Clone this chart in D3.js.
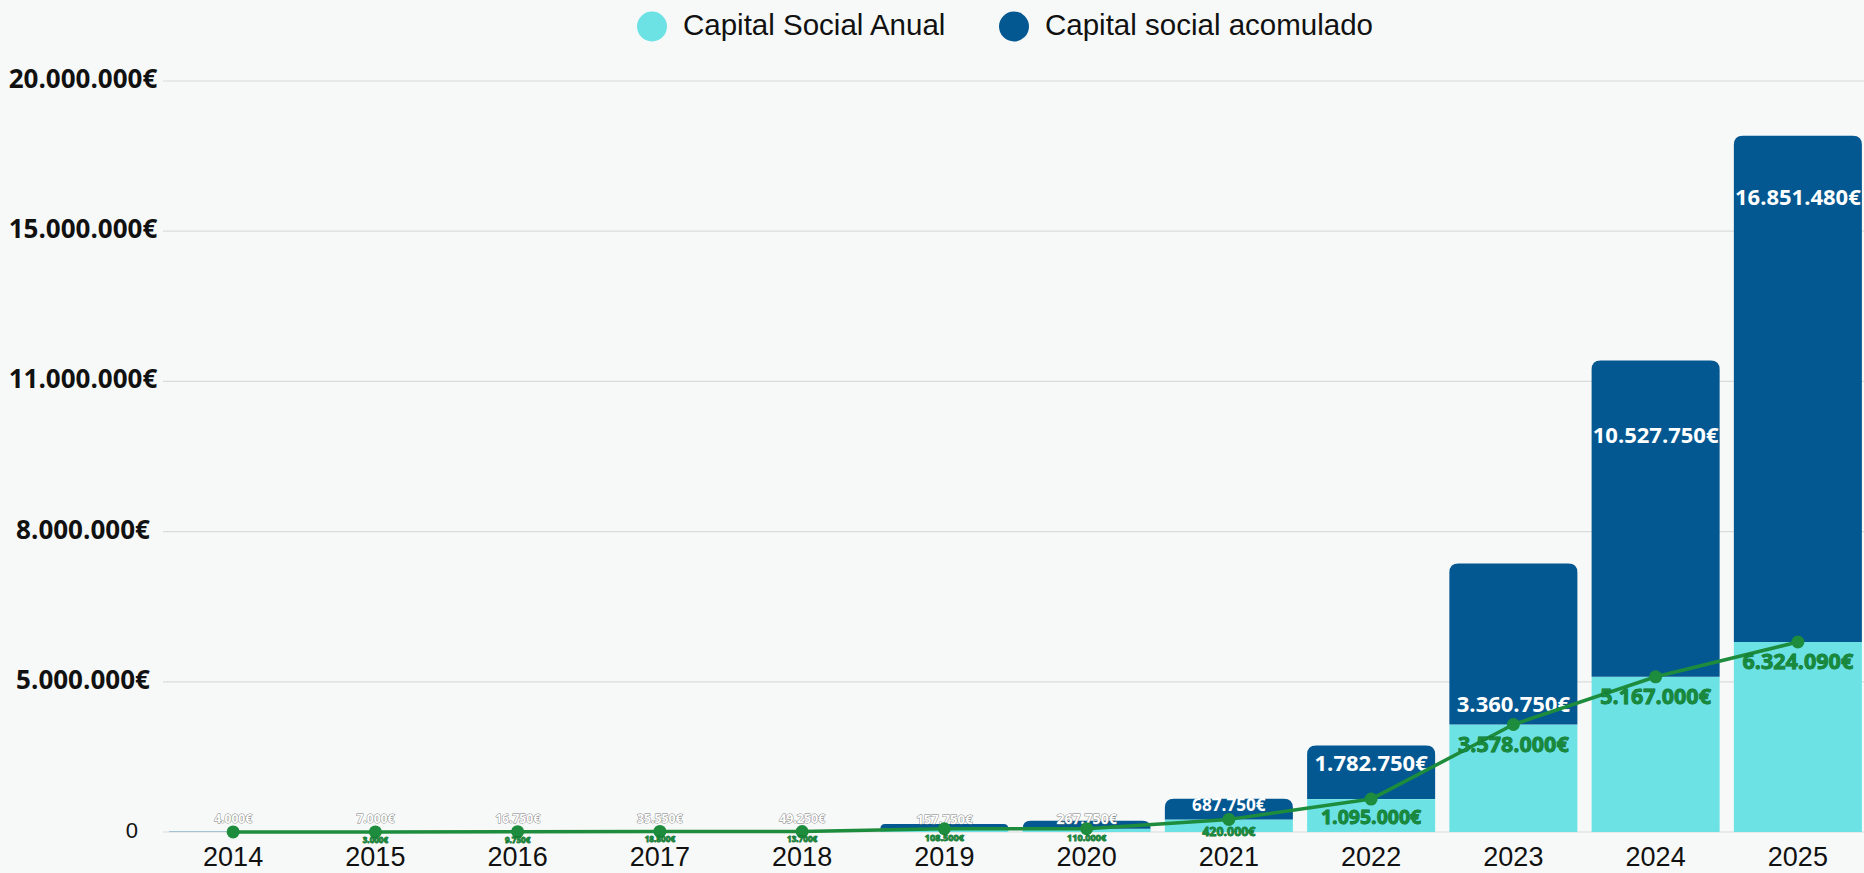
<!DOCTYPE html>
<html>
<head>
<meta charset="utf-8">
<script src="https://cdn.jsdelivr.net/npm/d3@7"></script>
<style>
  html, body { margin: 0; padding: 0; background: #f7f9f8; }
  svg { display: block; }
</style>
</head>
<body>
<svg id="chart" width="1864" height="873"></svg>
<script>
// ---- Data ----
const years = ["2014","2015","2016","2017","2018","2019","2020","2021","2022","2023","2024","2025"];
const annual = [4000, 3000, 9750, 18800, 13700, 108500, 110000, 420000, 1095000, 3578000, 5167000, 6324090];
const accumulated = [4000, 7000, 16750, 35550, 49250, 157750, 267750, 687750, 1782750, 5360750, 10527750, 16851480];
const accumulatedLabels = ["4.000€","7.000€","16.750€","35.550€","49.250€","157.750€","267.750€","687.750€","1.782.750€","3.360.750€","10.527.750€","16.851.480€"];
const annualLabels = ["","3.000€","9.750€","18.800€","13.700€","108.500€","110.000€","420.000€","1.095.000€","3.578.000€","5.167.000€","6.324.090€"];
const tickValues = [0, 5000000, 10000000, 15000000, 20000000, 25000000];
const tickLabels = ["0","5.000.000€","8.000.000€","11.000.000€","15.000.000€","20.000.000€"];
const legendLabels = ["Capital Social Anual", "Capital social acomulado"];

// ---- Styles ----
const W = 1864, H = 873;
const colAnnual = "#6ce2e5";
const colAccum = "#045891";
const colLine = "#1d8c3c";
const colLineText = "#188a3b";
const labelFont = "'Open Sans', 'DejaVu Sans', sans-serif";

const svg = d3.select("#chart");
svg.append("rect").attr("width", W).attr("height", H).attr("fill", "#f7f9f8");

const plotLeft = 162, plotRight = 1869, plotTop = 81, plotBottom = 832;

const x = d3.scaleBand().domain(years).range([plotLeft, plotRight]).paddingInner(0.1).paddingOuter(0.05);
const y = d3.scaleLinear().domain([0, 25000000]).range([plotBottom, plotTop]);
// value labels follow the nominal axis (0 – 20.000.000€)
const labelY = y.copy().domain([0, 20000000]);
const parseEuro = s => +s.replace(/[.€]/g, "");

// gridlines
svg.append("g").selectAll("line").data(tickValues).join("line")
  .attr("x1", plotLeft + 1).attr("x2", W)
  .attr("y1", d => y(d)).attr("y2", d => y(d))
  .attr("stroke", "#d9dcdb").attr("stroke-width", 1.2);

// y tick labels
svg.append("g").selectAll("text").data(tickValues).join("text")
  .attr("x", (d, i) => i === 0 ? 138 : 83).attr("y", d => y(d))
  .attr("text-anchor", (d, i) => i === 0 ? "end" : "middle")
  .attr("dominant-baseline", "middle")
  .attr("font-family", (d, i) => i === 0 ? "Liberation Sans" : labelFont)
  .attr("font-weight", (d, i) => i === 0 ? "normal" : "bold")
  .attr("font-size", (d, i) => i === 0 ? 22 : 26)
  .attr("fill", "#111")
  .text((d, i) => tickLabels[i]);

// bars
const bw = x.bandwidth();
const rows = years.map((yr, i) => ({ yr, i, a: annual[i], c: accumulated[i] }));

svg.append("g").selectAll("rect").data(rows).join("rect")
  .attr("x", d => x(d.yr)).attr("width", bw)
  .attr("y", d => y(d.a)).attr("height", d => y(0) - y(d.a))
  .attr("fill", colAnnual);

function topRounded(x0, y0, w, h, r) {
  r = Math.min(r, h, w / 2);
  return `M${x0},${y0 + h}V${y0 + r}Q${x0},${y0} ${x0 + r},${y0}H${x0 + w - r}Q${x0 + w},${y0} ${x0 + w},${y0 + r}V${y0 + h}Z`;
}
svg.append("g").selectAll("path").data(rows).join("path")
  .attr("d", d => {
    const yt = y(d.a + d.c), yb = y(d.a);
    return topRounded(x(d.yr), yt, bw, yb - yt, 9);
  })
  .attr("fill", colAccum);

// accumulated labels
const accH = d => y(d.a) - y(d.a + d.c);
svg.append("g").selectAll("text").data(rows).join("text")
  .attr("x", d => x(d.yr) + bw / 2)
  .attr("y", d => Math.min(labelY(parseEuro(accumulatedLabels[d.i])), y(0) - 12))
  .attr("text-anchor", "middle").attr("dominant-baseline", "middle")
  .attr("font-family", labelFont).attr("font-weight", "bold")
  .attr("font-size", d => Math.max(12, Math.min(22, 12 + accH(d) * 0.25)))
  .attr("fill", "#ffffff")
  .attr("stroke", d => accH(d) < 10 ? "#7a7a7a" : "none")
  .attr("stroke-width", 0.9)
  .attr("paint-order", "stroke")
  .text(d => accumulatedLabels[d.i]);

// line
const line = d3.line().x(d => x(d.yr) + bw / 2).y(d => y(d.a));
svg.append("path").datum(rows)
  .attr("d", line).attr("fill", "none")
  .attr("stroke", colLine).attr("stroke-width", 3.5).attr("stroke-linejoin", "round");
svg.append("g").selectAll("circle").data(rows).join("circle")
  .attr("cx", d => x(d.yr) + bw / 2).attr("cy", d => y(d.a)).attr("r", 6.5)
  .attr("fill", colLine);

// annual labels
const annFont = d => Math.max(7, Math.min(21.5, 8 + (y(0) - y(d.a)) * 0.35));
svg.append("g").selectAll("text").data(rows).join("text")
  .attr("x", d => x(d.yr) + bw / 2)
  .attr("y", d => y(d.a) + 1 + annFont(d) * 0.95)
  .attr("text-anchor", "middle").attr("dominant-baseline", "middle")
  .attr("font-family", labelFont).attr("font-weight", "bold")
  .attr("font-size", annFont)
  .attr("fill", colLineText)
  .attr("stroke", "#0e6a2c").attr("stroke-width", 0.8).attr("paint-order", "stroke")
  .text(d => annualLabels[d.i]);

// x axis labels
svg.append("g").selectAll("text").data(years).join("text")
  .attr("x", d => x(d) + bw / 2).attr("y", 859)
  .attr("text-anchor", "middle").attr("dominant-baseline", "middle")
  .attr("font-family", "Liberation Sans").attr("font-size", 27)
  .attr("fill", "#111")
  .text(d => d);

// legend
const legendX = [652, 1014];
const lg = svg.append("g");
lg.selectAll("circle").data(legendLabels).join("circle")
  .attr("cx", (d, i) => legendX[i]).attr("cy", 26.5).attr("r", 15)
  .attr("fill", (d, i) => i === 0 ? colAnnual : colAccum);
lg.selectAll("text").data(legendLabels).join("text")
  .attr("x", (d, i) => legendX[i] + 31).attr("y", 27)
  .attr("dominant-baseline", "middle")
  .attr("font-family", "Liberation Sans").attr("font-size", 29.5)
  .attr("fill", "#111")
  .text(d => d);
</script>
</body>
</html>
